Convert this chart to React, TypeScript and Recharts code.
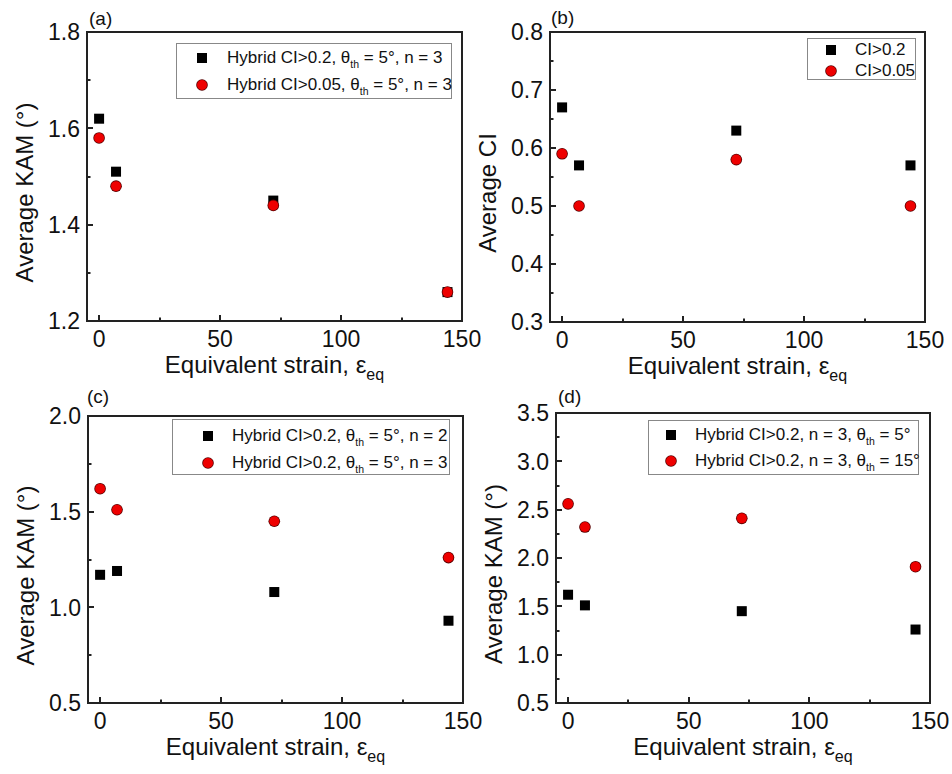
import React from "react"
import { ScatterChart, Scatter, XAxis, YAxis, Legend, Label } from "recharts"

const font = '"Liberation Sans", Arial, sans-serif'
const ink = "#111"
const edge = "#222"
const pad = 14 // extra room around each panel so outer texts are not clipped

// shared x values (equivalent strain)
const strain = [0, 7, 72, 144]
const xTicks = [0, 25, 50, 75, 100, 125, 150]
const xMajor = [0, 50, 100, 150]

// (a) average KAM, CI thresholds
const kamCi02 = [1.62, 1.51, 1.45, 1.26]
const kamCi005 = [1.58, 1.48, 1.44, 1.26]
// (b) average CI
const ciAbove02 = [0.67, 0.57, 0.63, 0.57]
const ciAbove005 = [0.59, 0.5, 0.58, 0.5]
// (c) average KAM, n = 2 vs n = 3
const kamN2 = [1.17, 1.19, 1.08, 0.93]
const kamN3 = [1.62, 1.51, 1.45, 1.26]
// (d) average KAM, theta threshold 5 vs 15
const kamTh5 = [1.62, 1.51, 1.45, 1.26]
const kamTh15 = [2.56, 2.32, 2.41, 1.91]

const yTicksA = [1.2, 1.3, 1.4, 1.5, 1.6, 1.7, 1.8]
const yMajorA = [1.2, 1.4, 1.6, 1.8]
const yTicksB = [0.3, 0.35, 0.4, 0.45, 0.5, 0.55, 0.6, 0.65, 0.7, 0.75, 0.8]
const yMajorB = [0.3, 0.4, 0.5, 0.6, 0.7, 0.8]
const yTicksC = [0.5, 0.75, 1.0, 1.25, 1.5, 1.75, 2.0]
const yMajorC = [0.5, 1.0, 1.5, 2.0]
const yTicksD = [0.5, 0.75, 1, 1.25, 1.5, 1.75, 2, 2.25, 2.5, 2.75, 3, 3.25, 3.5]
const yMajorD = [0.5, 1, 1.5, 2, 2.5, 3, 3.5]

// legend labels: [before subscript, subscript, after]
const legendA = [
  ["Hybrid CI>0.2, θ", "th", " = 5°, n = 3"],
  ["Hybrid CI>0.05, θ", "th", " = 5°, n = 3"],
]
const legendB = [["CI>0.2"], ["CI>0.05"]]
const legendC = [
  ["Hybrid CI>0.2, θ", "th", " = 5°, n = 2"],
  ["Hybrid CI>0.2, θ", "th", " = 5°, n = 3"],
]
const legendD = [
  ["Hybrid CI>0.2, n = 3, θ", "th", " = 5°"],
  ["Hybrid CI>0.2, n = 3, θ", "th", " = 15°"],
]

const toPoints = (values: number[]) => strain.map((x, i) => ({ x, y: values[i] }))

const SquareDot = (props: any) => (
  <rect x={props.cx - 5} y={props.cy - 5} width={10} height={10} fill="#000" />
)
const RedDot = (props: any) => (
  <g>
    <circle cx={props.cx} cy={props.cy} r={5.8} fill="#5a0000" />
    <circle cx={props.cx} cy={props.cy} r={5.0} fill="#ee0000" />
  </g>
)

const XTick = (props: any) => {
  const { x, y, payload } = props
  const major = xMajor.includes(payload.value)
  const len = major ? 6 : 3.5
  return (
    <g>
      <rect x={Math.round(x) - 1} y={y - len} width={2} height={len} fill={edge} />
      {major && (
        <text x={x} y={y + 26} textAnchor="middle" fontSize={23} fill={ink} fontFamily={font}>
          {payload.value}
        </text>
      )}
    </g>
  )
}

const makeYTick = (majors: number[]) => (props: any) => {
  const { x, y, payload } = props
  const major = majors.includes(payload.value)
  const len = major ? 6 : 3.5
  return (
    <g>
      <rect x={x} y={Math.round(y) - 1} width={len} height={2} fill={edge} />
      {major && (
        <text x={x - 7} y={y} dy="0.36em" textAnchor="end" fontSize={23} fill={ink} fontFamily={font}>
          {payload.value.toFixed(1)}
        </text>
      )}
    </g>
  )
}

const LegendBox = ({ items, width, height, markerX, textX, rows }: any) => (
  <div
    style={{
      position: "relative",
      width,
      height,
      boxSizing: "border-box",
      border: "1px solid #888",
      background: "#fff",
      fontFamily: font,
      fontSize: 17,
      color: ink,
    }}
  >
    {items.map((parts: string[], i: number) => (
      <div key={i} style={{ position: "absolute", left: 0, top: rows[i] - 11, height: 22, width: "100%" }}>
        <svg width={14} height={14} style={{ position: "absolute", left: markerX - 7, top: 4 }}>
          {i === 0 ? (
            <rect x={2} y={2} width={10} height={10} fill="#000" />
          ) : (
            <g>
              <circle cx={7} cy={7} r={5.8} fill="#5a0000" />
              <circle cx={7} cy={7} r={5.0} fill="#ee0000" />
            </g>
          )}
        </svg>
        <span style={{ position: "absolute", left: textX, top: 0, lineHeight: "22px", whiteSpace: "nowrap" }}>
          {parts[0]}
          {parts[1] && (
            <span style={{ fontSize: 10.5, position: "relative", top: 5 }}>{parts[1]}</span>
          )}
          {parts[2]}
        </span>
      </div>
    ))}
  </div>
)

const Panel = (p: any) => {
  const plotW = 476 - p.yWidth - p.marginRight
  const plotH = 387 - p.marginTop - p.xHeight

  const yTitle = ({ viewBox }: any) => {
    const cx = viewBox.x + viewBox.width - 63
    const cy = viewBox.y + viewBox.height / 2 + 16
    return (
      <text
        x={cx}
        y={cy}
        transform={`rotate(-90 ${cx} ${cy})`}
        textAnchor="middle"
        dy="0.36em"
        fontSize={24}
        fill={ink}
        fontFamily={font}
      >
        {p.yTitle}
      </text>
    )
  }
  const letter = ({ viewBox }: any) => (
    <text
      x={viewBox.x + viewBox.width + p.letterDx}
      y={viewBox.y - p.letterDy}
      fontSize={19}
      fill={ink}
      fontFamily={font}
    >
      {p.letter}
    </text>
  )
  const xTitle = ({ viewBox }: any) => (
    <text
      x={viewBox.x + viewBox.width / 2}
      y={viewBox.y + 52}
      textAnchor="middle"
      fontSize={24}
      fill={ink}
      fontFamily={font}
    >
      Equivalent strain, ε
      <tspan dy={7} fontSize={16}>
        eq
      </tspan>
    </text>
  )

  return (
    <div style={{ position: "absolute", left: p.left - pad, top: p.top, width: 476 + 2 * pad, height: 387 }}>
      <div style={{ position: "absolute", left: 0, top: 0 }}>
        <ScatterChart
          width={476 + 2 * pad}
          height={387}
          margin={{ top: p.marginTop, right: p.marginRight + pad, bottom: 0, left: 0 }}
        >
          <XAxis
            dataKey="x"
            type="number"
            domain={[-5, 150]}
            ticks={xTicks}
            interval={0}
            allowDataOverflow
            height={p.xHeight}
            axisLine={{ stroke: edge, strokeWidth: 2 }}
            tickLine={false}
            tickSize={0}
            tickMargin={0}
            tick={XTick}
          >
            <Label content={xTitle} />
          </XAxis>
          <YAxis
            dataKey="y"
            type="number"
            domain={p.yDomain}
            ticks={p.yTicks}
            interval={0}
            allowDataOverflow
            width={p.yWidth + pad}
            axisLine={{ stroke: edge, strokeWidth: 2 }}
            tickLine={false}
            tickSize={0}
            tickMargin={0}
            tick={makeYTick(p.yMajor)}
          >
            <Label content={yTitle} />
            <Label content={letter} />
          </YAxis>
          <Scatter name="square" data={toPoints(p.first)} shape={SquareDot} isAnimationActive={false} />
          <Scatter name="circle" data={toPoints(p.second)} shape={RedDot} isAnimationActive={false} />
          <Legend
            layout="vertical"
            align="center"
            verticalAlign="middle"
            wrapperStyle={{
              left: p.legend.left + pad,
              top: p.legend.top,
              width: p.legend.width,
              height: p.legend.height,
            }}
            content={() => <LegendBox {...p.legend} />}
          />
        </ScatterChart>
      </div>
      {/* plot frame laid over the chart's plotting area */}
      <div
        style={{
          position: "absolute",
          left: p.yWidth + pad - 1,
          top: p.marginTop - 1,
          width: plotW + 2,
          height: plotH + 2,
          boxSizing: "border-box",
          border: `2px solid ${edge}`,
          pointerEvents: "none",
        }}
      />
    </div>
  )
}

export default function App() {
  return (
    <div
      style={{
        position: "absolute",
        left: 0,
        top: 0,
        width: 952,
        height: 774,
        overflow: "hidden",
        background: "#fff",
      }}
    >
      <Panel
        left={0}
        top={0}
        marginTop={32}
        marginRight={14}
        yWidth={87}
        xHeight={66}
        yDomain={[1.2, 1.8]}
        yTicks={yTicksA}
        yMajor={yMajorA}
        yTitle="Average KAM (°)"
        letter="(a)"
        letterDx={2}
        letterDy={7}
        first={kamCi02}
        second={kamCi005}
        legend={{ items: legendA, left: 176, top: 43, width: 276, height: 56, markerX: 25, textX: 50, rows: [14, 41] }}
      />
      <Panel
        left={476}
        top={0}
        marginTop={32}
        marginRight={27}
        yWidth={74}
        xHeight={65}
        yDomain={[0.3, 0.8]}
        yTicks={yTicksB}
        yMajor={yMajorB}
        yTitle="Average CI"
        letter="(b)"
        letterDx={1}
        letterDy={8}
        first={ciAbove02}
        second={ciAbove005}
        legend={{ items: legendB, left: 331, top: 38, width: 109, height: 42, markerX: 23, textX: 47, rows: [11, 32] }}
      />
      <Panel
        left={0}
        top={387}
        marginTop={29}
        marginRight={13}
        yWidth={88}
        xHeight={71}
        yDomain={[0.5, 2.0]}
        yTicks={yTicksC}
        yMajor={yMajorC}
        yTitle="Average KAM (°)"
        letter="(c)"
        letterDx={-1}
        letterDy={13}
        first={kamN2}
        second={kamN3}
        legend={{ items: legendC, left: 172, top: 32, width: 278, height: 56, markerX: 35, textX: 59, rows: [16, 43] }}
      />
      <Panel
        left={476}
        top={387}
        marginTop={26}
        marginRight={22}
        yWidth={80}
        xHeight={71}
        yDomain={[0.5, 3.5]}
        yTicks={yTicksD}
        yMajor={yMajorD}
        yTitle="Average KAM (°)"
        letter="(d)"
        letterDx={2}
        letterDy={10}
        first={kamTh5}
        second={kamTh15}
        legend={{ items: legendD, left: 172, top: 33, width: 271, height: 55, markerX: 22, textX: 46, rows: [14, 40] }}
      />
    </div>
  )
}
